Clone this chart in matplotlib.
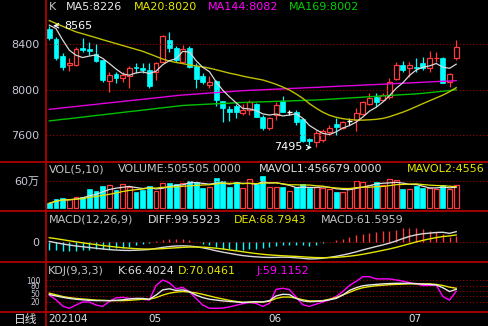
import matplotlib
matplotlib.use("Agg")
import matplotlib.pyplot as plt
from matplotlib.lines import Line2D
from matplotlib.patches import Rectangle
import matplotlib.transforms as mtrans
import numpy as np
import pandas as pd

plt.rcParams['font.family'] = ['DejaVu Sans', 'Noto Sans CJK SC']

W, H = 489, 326

# 日K 数据 (2021-04-12 ~ 2021-07-12)
open_ = [8540, 8447, 8300, 8219, 8219, 8365, 8356, 8312, 8263, 8082,
         8140, 8102, 8125, 8204, 8196, 8175, 8160, 8248, 8438, 8367,
         8249, 8367, 8212, 8120, 8044, 8079, 7904, 7830, 7863, 7795,
         7825, 7874, 7766, 7670, 7780, 7904, 7804, 7810, 7743, 7570,
         7545, 7560, 7629, 7702, 7670, 7728, 7737, 7787, 7874, 7942,
         7912, 7942, 8096, 8219, 8196, 8204, 8233, 8190, 8277, 8277,
         8073, 8277]
high = [8565, 8467, 8321, 8277, 8380, 8458, 8423, 8400, 8263, 8155,
        8160, 8155, 8210, 8233, 8233, 8233, 8248, 8482, 8511, 8385,
        8395, 8385, 8233, 8150, 8120, 8090, 7904, 7860, 7880, 7880,
        7912, 7890, 7780, 7760, 7892, 7950, 7825, 7820, 7750, 7580,
        7645, 7655, 7690, 7752, 7730, 7752, 7840, 7900, 7970, 7970,
        7970, 8108, 8248, 8254, 8248, 8283, 8289, 8342, 8330, 8292,
        8146, 8438]
low = [8440, 8263, 8175, 8166, 8215, 8330, 8306, 8248, 8073, 7980,
       8064, 8073, 8020, 8146, 8146, 8020, 8085, 8242, 8336, 8250,
       8235, 8190, 8020, 8055, 8020, 7860, 7717, 7730, 7750, 7780,
       7780, 7760, 7650, 7650, 7740, 7805, 7780, 7693, 7540, 7520,
       7495, 7545, 7600, 7606, 7660, 7694, 7636, 7780, 7868, 7854,
       7900, 7925, 8087, 8160, 8117, 8160, 8175, 8155, 8248, 8058,
       8029, 8260]
close = [8453, 8277, 8204, 8239, 8356, 8350, 8342, 8254, 8088, 8131,
         8108, 8131, 8190, 8190, 8175, 8038, 8233, 8476, 8365, 8264,
         8358, 8205, 8100, 8070, 8073, 7912, 7839, 7810, 7804, 7825,
         7892, 7766, 7664, 7752, 7868, 7810, 7804, 7722, 7553, 7553,
         7625, 7640, 7670, 7673, 7722, 7728, 7796, 7892, 7933, 7892,
         7956, 8073, 8219, 8175, 8219, 8190, 8196, 8277, 8283, 8058,
         8137, 8380]
volume = [108000, 202000, 231000, 202000, 253000, 253000, 419000, 376000, 484000, 506000,
          397000, 520000, 470000, 361000, 397000, 491000, 383000, 542000, 542000, 535000,
          542000, 599000, 577000, 447000, 456000, 651000, 599000, 469000, 564000, 434000,
          629000, 520000, 701000, 469000, 469000, 469000, 383000, 456000, 520000, 434000,
          469000, 447000, 412000, 361000, 361000, 434000, 590000, 560000, 500000, 565000,
          505000, 630000, 620000, 415000, 425000, 490000, 445000, 430000, 423000, 505000,
          420000, 505505]

ma5_head = [8570, 8540, 8440, 8350]
ma20 = [8610, 8585, 8560, 8535, 8511, 8494, 8477, 8460, 8442, 8425,
        8408, 8391, 8374, 8357, 8340, 8318, 8295, 8272, 8255, 8242,
        8232, 8220, 8212, 8203, 8192, 8178, 8163, 8148, 8136, 8122,
        8110, 8099, 8088, 8070, 8050, 8026, 8000, 7965, 7927, 7880,
        7840, 7805, 7778, 7760, 7748, 7740, 7736, 7735, 7738, 7742,
        7750, 7765, 7785, 7805, 7828, 7854, 7880, 7905, 7930, 7955,
        7985, 8020]
ma144 = [7830, 7836, 7843, 7849, 7855, 7862, 7868, 7874, 7881, 7887,
         7893, 7899, 7906, 7912, 7918, 7925, 7931, 7937, 7944, 7950,
         7956, 7960, 7964, 7969, 7973, 7977, 7981, 7985, 7990, 7994,
         7997, 7999, 8002, 8005, 8007, 8010, 8013, 8015, 8018, 8021,
         8023, 8026, 8029, 8032, 8035, 8037, 8040, 8043, 8046, 8048,
         8051, 8054, 8057, 8060, 8062, 8065, 8068, 8071, 8074, 8076,
         8079, 8082]
ma169 = [7728, 7735, 7742, 7748, 7755, 7762, 7769, 7776, 7782, 7789,
         7796, 7803, 7810, 7816, 7823, 7830, 7837, 7844, 7850, 7857,
         7864, 7867, 7870, 7873, 7876, 7879, 7881, 7884, 7887, 7890,
         7892, 7894, 7896, 7898, 7900, 7902, 7904, 7906, 7908, 7910,
         7912, 7915, 7919, 7922, 7926, 7930, 7933, 7937, 7941, 7944,
         7948, 7952, 7955, 7959, 7962, 7966, 7971, 7977, 7983, 7989,
         7995, 8002]

diff = [8, -4, -16, -26, -35, -42, -49, -56, -63, -69,
        -73, -76, -77, -75, -72, -68, -58, -48, -40, -35,
        -33, -36, -42, -52, -65, -80, -93, -104, -115, -125,
        -132, -137, -141, -143, -142, -140, -141, -146, -151, -157,
        -155, -150, -142, -132, -120, -106, -90, -72, -56, -40,
        -25, -8, 12, 35, 55, 70, 80, 86, 92, 94,
        84, 99.6]
dea = [43, 34, 24, 14, 4, -5, -14, -22, -31, -38,
       -45, -51, -56, -60, -63, -64, -63, -60, -56, -52,
       -48, -45, -45, -46, -50, -56, -63, -72, -80, -89,
       -98, -106, -113, -119, -123, -127, -130, -133, -137, -141,
       -144, -145, -144, -142, -137, -131, -123, -113, -101, -89,
       -76, -63, -48, -31, -14, 3, 18, 32, 44, 54,
       60, 68.8]

k_line = [47, 42, 37, 33, 30, 28, 26, 25, 25, 25, 26, 28, 31, 33, 33, 30, 45, 64, 68, 62, 64,
          58, 45, 36, 30, 27, 24, 22, 20, 18, 20, 21, 20, 25, 42, 48, 47, 33, 24, 21, 22,
          24, 28, 33, 45, 62, 72, 79, 82, 84, 86, 87, 88, 88, 88, 87, 85, 84, 82, 72, 58, 66]
d_line = [52, 46, 40, 36, 33, 31, 29, 27, 26, 25, 25, 25, 26, 28, 30, 30, 36, 45, 52, 56, 58,
          56, 53, 48, 42, 36, 31, 26, 22, 19, 19, 20, 20, 23, 33, 38, 38, 34, 28, 24, 24,
          25, 30, 36, 46, 55, 65, 72, 76, 79, 81, 83, 84, 85, 86, 86, 86, 86, 84, 80, 74, 70]
j_line = [45, 28, 5, -3, 9, 20, 20, 9, 4, 22, 35, 37, 33, 32, 30, 27, 80, 100, 90, 68, 73,
          57, 33, 9, -3, -3, -2, 2, 8, 14, 18, 15, 4, 15, 66, 70, 65, 38, 10, 4, 12,
          20, 28, 40, 58, 80, 95, 112, 112, 104, 104, 104, 100, 96, 90, 85, 80, 80, 82, 40, 27, 59]

date_pos = [0, 15, 33, 54]
date_txt = ['202104', '05', '06', '07']
price_ticks = [8400, 8000, 7600]

n = len(close)
x = np.arange(n)
ma5 = pd.Series(close).rolling(5).mean().values
ma5[:4] = ma5_head
mavol1 = pd.Series(volume).rolling(5, min_periods=1).mean()
mavol2 = pd.Series(volume).rolling(10, min_periods=1).mean()
macd = 2 * (np.array(diff) - np.array(dea))

UP = '#ff3b3b'
DN = '#00ffff'
FRAME = '#b00000'
GRID = '#a00000'
GRAY = '#c4c4c4'
AXLBL = '#c8c8d8'
YEL = '#e6e600'
MAG = '#ff00ff'
GRN = '#00d000'
FS = 8

X0 = 46
XL = (-0.495, 65.92)

fig = plt.figure(figsize=(W / 100, H / 100), dpi=100, facecolor='black')


def panel(y0, y1, ylim):
    ax = fig.add_axes([X0 / W, 1 - y1 / H, 1 - X0 / W, (y1 - y0) / H])
    ax.set_facecolor('black')
    ax.set_xlim(XL)
    ax.set_ylim(ylim)
    for s in ax.spines.values():
        s.set_visible(False)
    ax.set_xticks([])
    ax.tick_params(axis='y', length=0, pad=5, labelcolor=AXLBL, labelsize=FS)
    return ax


def ftext(px, py, s, c, ha='left', fs=FS):
    fig.text(px / W, 1 - py / H, s, color=c, fontsize=fs, ha=ha, va='center')


# 主图
ax = panel(0, 162, (7367, 8791))
ax.set_yticks(price_ticks)
for p in price_ticks:
    ax.axhline(p, color=GRID, lw=0.8, ls=(0, (1, 2)))
bw = 0.74
for i in range(n):
    o, h, l, c = open_[i], high[i], low[i], close[i]
    if c > o:
        ax.vlines(i, l, o, color=UP, lw=0.9)
        ax.vlines(i, c, h, color=UP, lw=0.9)
        ax.add_patch(Rectangle((i - bw / 2, o), bw, c - o, facecolor='black', edgecolor=UP, lw=0.9))
    elif c < o:
        ax.vlines(i, l, h, color=DN, lw=0.9)
        ax.add_patch(Rectangle((i - bw / 2, c), bw, o - c, facecolor=DN, edgecolor=DN, lw=0.5))
    else:
        ax.vlines(i, l, h, color='white', lw=0.9)
        ax.hlines(c, i - bw / 2, i + bw / 2, color='white', lw=1)
ax.plot(x, ma169, color='#00c000', lw=1)
ax.plot(x, ma144, color='#e000e0', lw=1)
ax.plot(x, ma20, color='#c0c000', lw=1)
ax.plot(x, ma5, color='#d8d8d8', lw=0.9)
ax.annotate('8565', xy=(0.15, 8565), xytext=(2.2, 8565), color='white', fontsize=FS,
            va='center', arrowprops=dict(arrowstyle='->', color='white', lw=0.8))
ax.annotate('7495', xy=(39.8, 7495), xytext=(37.9, 7495), color='white', fontsize=FS,
            va='center', ha='right', arrowprops=dict(arrowstyle='->', color='white', lw=0.8))

ftext(49, 7.5, 'K', GRAY)
ftext(66, 7.5, 'MA5:8226', '#e8e8e8')
ftext(134, 7.5, 'MA20:8020', YEL)
ftext(208, 7.5, 'MA144:8082', MAG)
ftext(289, 7.5, 'MA169:8002', GRN)

# 成交量
axv = panel(162, 210, (-36890, 1004710))
axv.set_yticks([600000])
axv.set_yticklabels(['60万'])
axv.axhline(600000, color=GRID, lw=0.8, ls=(0, (1, 2)))
for i in range(n):
    if close[i] >= open_[i]:
        axv.add_patch(Rectangle((i - bw / 2, 0), bw, volume[i], facecolor='black', edgecolor=UP, lw=0.9))
    else:
        axv.add_patch(Rectangle((i - bw / 2, 0), bw, volume[i], facecolor=DN, edgecolor=DN, lw=0.5))
axv.plot(x, mavol1, color='#e0e0e0', lw=0.9)
axv.plot(x, mavol2, color=YEL, lw=0.9)
ftext(49, 169.5, 'VOL(5,10)', GRAY)
ftext(118, 169.5, 'VOLUME:505505.0000', GRAY)
ftext(259, 169.5, 'MAVOL1:456679.0000', '#e0e0e0')
# 原图此处文字被右边缘截断
ftext(407, 169.5, 'MAVOL2:4556', YEL)

# MACD
axm = panel(210, 262, (-185.6, 303.6))
axm.set_yticks([0])
axm.axhline(0, color=GRID, lw=0.8, ls=(0, (1, 2)))
axm.vlines(x[macd >= 0], 0, macd[macd >= 0], color=UP, lw=1)
axm.vlines(x[macd < 0], 0, macd[macd < 0], color=DN, lw=1)
axm.plot(x, diff, color='#d8d8d8', lw=1)
axm.plot(x, dea, color=YEL, lw=1)
ftext(49, 220, 'MACD(12,26,9)', GRAY)
ftext(148, 220, 'DIFF:99.5923', '#e0e0e0')
ftext(234, 220, 'DEA:68.7943', YEL)
ftext(321, 220, 'MACD:61.5959', GRAY)

# KDJ
axk = panel(262, 312, (-16.4, 165.5))
axk.set_yticks([100, 80, 50, 20])
axk.tick_params(axis='y', labelsize=5.5, pad=4)
for v in [100, 80, 60, 40, 20]:
    axk.axhline(v, color=GRID, lw=0.8, ls=(0, (1, 2)))
axk.plot(x, j_line, color=MAG, lw=1)
axk.plot(x, d_line, color=YEL, lw=1)
axk.plot(x, k_line, color='#e8e8e8', lw=1)
ftext(48, 270.5, 'KDJ(9,3,3)', GRAY)
ftext(118, 270.5, 'K:66.4024', '#e0e0e0')
ftext(178, 270.5, 'D:70.0461', YEL)
ftext(257, 270.5, 'J:59.1152', MAG)

# 日期
tr = mtrans.blended_transform_factory(axk.transData, axk.transAxes)
for p, s in zip(date_pos, date_txt):
    axk.text(p - 0.2, -0.14, s, transform=tr, color='#e0e0e0', fontsize=FS - 0.5,
             ha='left', va='center')
ftext(14, 319, '日线', '#e0e0e0', fs=FS + 0.5)

# 红色边框
for py in [162, 210.5, 262, 311.5]:
    fig.add_artist(Line2D([0, 1], [1 - py / H, 1 - py / H], color=FRAME, lw=1.3,
                          transform=fig.transFigure))
fig.add_artist(Line2D([X0 / W, X0 / W], [0, 1], color=FRAME, lw=1.3, transform=fig.transFigure))

fig.savefig('out.png', dpi=100, facecolor='black')
